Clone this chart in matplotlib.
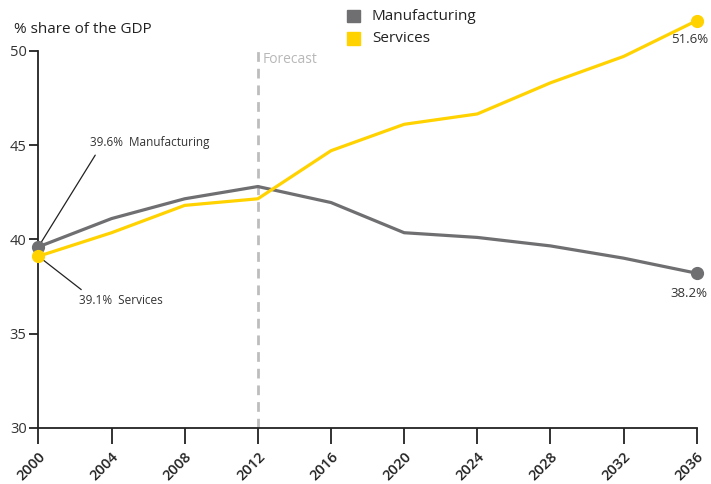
import matplotlib.pyplot as plt

plt.rcParams['font.family'] = ['Open Sans', 'DejaVu Sans']

# Share of GDP (%), actuals to 2012, forecast afterwards
years = [2000, 2004, 2008, 2012, 2016, 2020, 2024, 2028, 2032, 2036]
manufacturing = [39.6, 41.1, 42.15, 42.8, 41.95, 40.35, 40.1, 39.65, 39.0, 38.2]
services = [39.1, 40.35, 41.8, 42.15, 44.7, 46.1, 46.65, 48.3, 49.7, 51.6]
y_ticks = [30, 35, 40, 45, 50]
forecast_start = 2012

GREY = '#6f6f72'
YELLOW = '#ffd200'

fig = plt.figure(figsize=(7.11, 4.84), dpi=100)
ax = fig.add_axes([0.054, 0.116, 0.926, 0.857])

ax.plot(years, manufacturing, color=GREY, lw=2.3, zorder=3, solid_capstyle='round')
ax.plot(years, services, color=YELLOW, lw=2.3, zorder=3, solid_capstyle='round')

# end-point dots
for series, col in [(manufacturing, GREY), (services, YELLOW)]:
    ax.plot([years[0], years[-1]], [series[0], series[-1]], 'o', color=col,
            ms=8.5, zorder=4, clip_on=False)

ax.axvline(forecast_start, ymin=0, ymax=(50.2 - 30) / 22,
           color='#bdbdbd', lw=2, ls=(0, (3.5, 2.5)), zorder=1)
ax.text(forecast_start + 0.25, 49.55, 'Forecast', color='#b8b8b8', fontsize=10,
        va='center', ha='left')

ax.set_xlim(2000, 2036)
ax.set_ylim(30, 52)
ax.set_xticks(years)
ax.set_xticklabels([str(y) for y in years], rotation=45, ha='right',
                   rotation_mode='anchor', fontsize=10.5, fontweight='semibold',
                   color='#222222')
ax.set_yticks(y_ticks)
ax.set_yticklabels([str(t) for t in y_ticks], fontsize=10.5, color='#333333')
ax.tick_params(axis='x', length=11.5, width=1.3, pad=4, color='#222222')
ax.tick_params(axis='y', length=6.5, width=1.3, pad=2, color='#222222')

for side in ['top', 'right']:
    ax.spines[side].set_visible(False)
for side in ['left', 'bottom']:
    ax.spines[side].set_linewidth(1.3)
    ax.spines[side].set_color('#222222')
ax.spines['left'].set_bounds(30, 50)

# value labels
ax.annotate(f'{manufacturing[0]:.1f}%  Manufacturing',
            xy=(years[0], manufacturing[0]), xytext=(2002.8, 44.8),
            fontsize=8.5, color='#333333', ha='left', va='bottom',
            arrowprops=dict(arrowstyle='-', color='#222222', lw=0.9,
                            shrinkA=3, shrinkB=4, relpos=(0.08, 0)))
ax.annotate(f'{services[0]:.1f}%  Services',
            xy=(years[0], services[0]), xytext=(2002.2, 36.75),
            fontsize=8.5, color='#333333', ha='left', va='center',
            arrowprops=dict(arrowstyle='-', color='#222222', lw=0.9,
                            shrinkA=2, shrinkB=4, relpos=(0.1, 1)))
ax.text(years[-1] + 0.6, services[-1] - 1.0, f'{services[-1]:.1f}%',
        fontsize=9.5, color='#333333', ha='right', va='center')
ax.text(years[-1] + 0.6, manufacturing[-1] - 1.05, f'{manufacturing[-1]:.1f}%',
        fontsize=9.5, color='#333333', ha='right', va='center')

fig.text(0.019, 0.94, '% share of the GDP', fontsize=11, color='#222222',
         ha='left', va='center')

# legend squares
for i, (name, col) in enumerate([('Manufacturing', GREY), ('Services', YELLOW)]):
    yy = 0.966 - i * 0.046
    fig.patches.append(plt.Rectangle((0.488, yy - 0.012), 0.018, 0.026,
                                     transform=fig.transFigure, color=col))
    fig.text(0.523, yy, name, fontsize=11, color='#222222', ha='left', va='center')

fig.savefig('out.png', dpi=100)
